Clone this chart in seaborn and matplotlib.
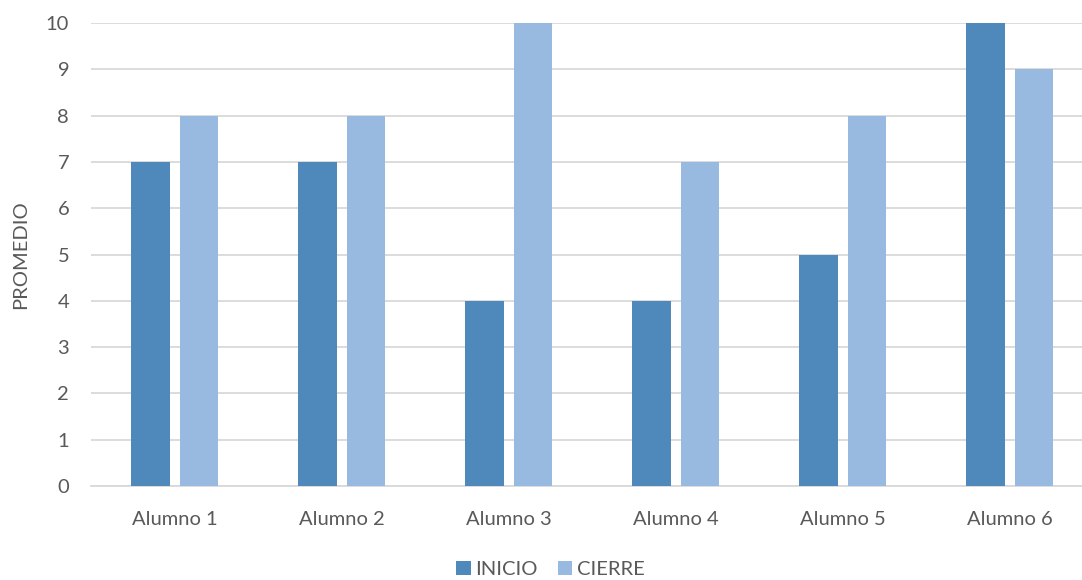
import matplotlib
matplotlib.use("Agg")
import matplotlib.pyplot as plt
import seaborn as sns
import pandas as pd

alumnos = ["Alumno 1", "Alumno 2", "Alumno 3", "Alumno 4", "Alumno 5", "Alumno 6"]
inicio = [7, 7, 4, 4, 5, 10]
cierre = [8, 8, 10, 7, 8, 9]
series = ["INICIO", "CIERRE"]
yticks = list(range(0, 11))

df = pd.DataFrame({
    "Alumno": alumnos * 2,
    "Serie": [series[0]] * len(alumnos) + [series[1]] * len(alumnos),
    "Promedio": inicio + cierre,
})

sns.set_theme(style="white")
plt.rcParams["font.family"] = ["Lato", "DejaVu Sans"]
text_color = "#595959"
fs = 14.5

fig = plt.figure(figsize=(10.82, 5.8), dpi=100)
ax = fig.add_axes([0.0845, 0.162, 0.926, 0.798])

palette = {"INICIO": "#4F88BB", "CIERRE": "#98B9E0"}
sns.barplot(data=df, x="Alumno", y="Promedio", hue="Serie", hue_order=series,
            palette=palette, width=0.583, gap=0.21, saturation=1,
            ax=ax, zorder=3, edgecolor="none")

ax.set_xlim(-0.5, len(alumnos) - 0.5)
ax.set_ylim(0, 10)
ax.set_yticks(yticks)
ax.yaxis.grid(True, color="#D9D9D9", linewidth=1.3, zorder=0)
ax.set_axisbelow(True)
for s in ["top", "right", "left"]:
    ax.spines[s].set_visible(False)
ax.spines["bottom"].set_color("#D9D9D9")
ax.spines["bottom"].set_linewidth(1.3)
ax.tick_params(axis="both", length=0, colors=text_color, labelsize=fs)
ax.tick_params(axis="x", pad=18)
ax.tick_params(axis="y", pad=16)
ax.set_xlabel("")
ax.set_ylabel("PROMEDIO", color=text_color, fontsize=fs, labelpad=12)

handles, labels = ax.get_legend_handles_labels()
ax.get_legend().remove()
fig.legend(handles, labels, loc="center", bbox_to_anchor=(0.509, 0.018),
           ncol=2, frameon=False, fontsize=fs, handlelength=0.7, handleheight=0.7,
           handletextpad=0.25, columnspacing=1.0, labelcolor=text_color)

fig.savefig("out.png", dpi=100)
